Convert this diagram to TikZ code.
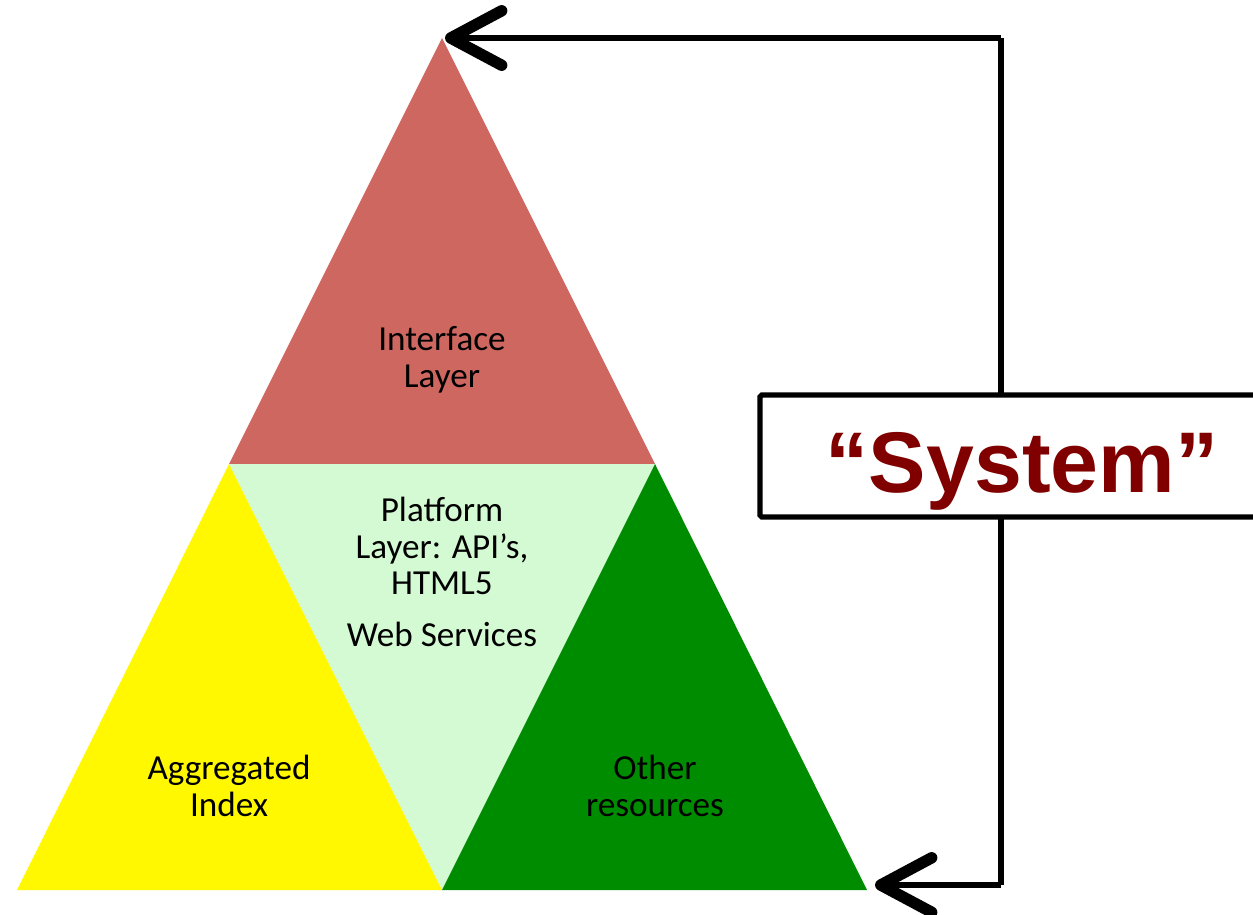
\documentclass[tikz,border=0pt]{standalone}
\usepackage{fontspec}
\setmainfont{Carlito}
\newfontfamily\sysfont{Liberation Sans}
\usetikzlibrary{arrows.meta}
\definecolor{ifacered}{RGB}{205,103,95}
\definecolor{platgreen}{RGB}{212,250,212}
\definecolor{aggyellow}{RGB}{255,248,0}
\definecolor{othergreen}{RGB}{0,140,0}
\definecolor{sysred}{RGB}{128,0,0}
\begin{document}
\begin{tikzpicture}[
        x=0.02cm, y=-0.02cm,
        label/.style = {
            align=center,
            font=\fontsize{20}{21}\selectfont
        },
        loop line/.style={draw, line width=3pt},
        loop arrow/.style={loop line, -{Straight Barb[length=29pt, width=31pt, line width=6.5pt, round]}},
        sysbox/.style={
            draw, fill=white, line width=3pt, rounded corners=1pt,
            minimum width=498*0.02cm, minimum height=122*0.02cm
        },
        systext/.style={
            text=sysred, inner sep=0pt,
            font=\sysfont\bfseries\fontsize{49}{49}\selectfont
        }
    ]
    \useasboundingbox (0,0) rectangle (1253,914);

    % CORNERS
    \coordinate (apex) at (442,38);
    \coordinate (midL) at (229,464);
    \coordinate (midR) at (655,464);
    \coordinate (baseL) at (17,890);
    \coordinate (baseM) at (442,890);
    \coordinate (baseR) at (867,890);

    % TRIANGLES
    \fill[ifacered] (apex) -- (midR) -- (midL) -- cycle;
    \fill[platgreen] (midL) -- (midR) -- (baseM) -- cycle;
    \fill[aggyellow] (midL) -- (baseM) -- (baseL) -- cycle;
    \fill[othergreen] (midR) -- (baseR) -- (baseM) -- cycle;

    % LABELS
    \node[label] (iface) at (442,360) {Interface\\Layer};
    \node[label] (plat) at (442,546) {Platform\\Layer: API’s,\\HTML5};
    \node[label] (web) at (442,634) {Web Services};
    \node[label] (agg) at (229,786) {Aggregated\\Index};
    \node[label] (other) at (655,786) {Other\\resources};

    % LOOP
    \coordinate (loopTop) at (1001,38);
    \coordinate (loopBot) at (1001,885);
    \coordinate (tipTop) at (445,38);
    \coordinate (tipBot) at (875,885);
    \draw[loop line] (loopTop) -- (loopBot);
    \draw[loop arrow] (loopTop) -- (tipTop);
    \draw[loop arrow] (loopBot) -- (tipBot);

    % SYSTEM
    \node[sysbox] (sys) at (1009,456) {};
    \node[systext, anchor=base] (systxt) at (1022,492) {“System”};
\end{tikzpicture}
\end{document}
